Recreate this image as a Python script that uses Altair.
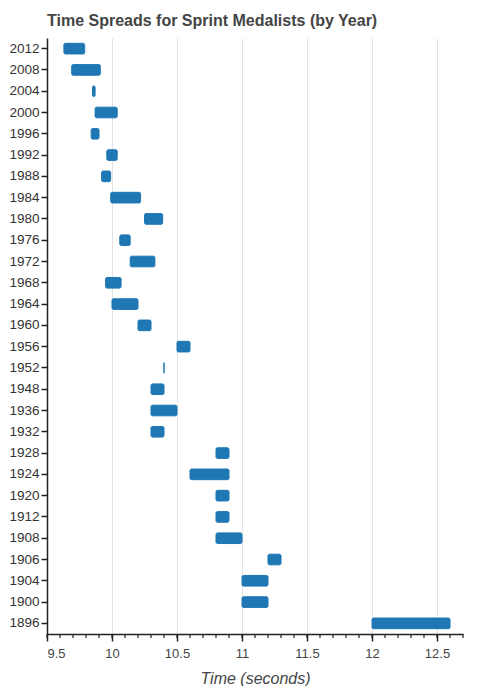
import altair as alt
import pandas as pd

# Olympic 100m medalists: fastest and slowest medal time per Games
years = [2012, 2008, 2004, 2000, 1996, 1992, 1988, 1984, 1980, 1976,
         1972, 1968, 1964, 1960, 1956, 1952, 1948, 1936, 1932, 1928,
         1924, 1920, 1912, 1908, 1906, 1904, 1900, 1896]
fastest = [9.63, 9.69, 9.85, 9.87, 9.84, 9.96, 9.92, 9.99, 10.25, 10.06,
           10.14, 9.95, 10.0, 10.2, 10.5, 10.4, 10.3, 10.3, 10.3, 10.8,
           10.6, 10.8, 10.8, 10.8, 11.2, 11.0, 11.0, 12.0]
slowest = [9.79, 9.91, 9.87, 10.04, 9.90, 10.04, 9.99, 10.22, 10.39, 10.14,
           10.33, 10.07, 10.2, 10.3, 10.6, 10.4, 10.4, 10.5, 10.4, 10.9,
           10.9, 10.9, 10.9, 11.0, 11.3, 11.2, 11.2, 12.6]

major_ticks = [9.5, 10, 10.5, 11, 11.5, 12, 12.5]
minor_ticks = [round(9.5 + 0.1 * i, 1) for i in range(33)]

df = pd.DataFrame({"Year": years, "Fastest": fastest, "Slowest": slowest})
ticks_df = pd.DataFrame({"tick": minor_ticks})

BLUE = "#1f77b4"
INK = "#222222"
H = 596
x_scale = alt.Scale(domain=[9.5, 12.7], nice=False, zero=False)
y_scale = alt.Scale(paddingInner=0.5, paddingOuter=0.25)
x_axis = alt.Axis(values=major_ticks, format="~g",
                  grid=True, gridColor="#e3e3e3",
                  domain=True, domainColor=INK, domainWidth=1.5,
                  ticks=True, tickColor=INK, tickWidth=1.5, tickSize=7,
                  labelFontSize=13, labelColor="#444", labelPadding=6,
                  titleFontSize=16, titleFontStyle="italic",
                  titleFontWeight="normal", titleColor="#444",
                  titlePadding=10)

bars = alt.Chart(df).mark_bar(color=BLUE, stroke=BLUE, strokeWidth=1,
                              cornerRadius=1.5).encode(
    x=alt.X("Fastest:Q", scale=x_scale, title="Time (seconds)", axis=x_axis),
    x2="Slowest:Q",
    y=alt.Y("Year:O", sort="descending", scale=y_scale, title=None,
            axis=alt.Axis(grid=False, labelPadding=2,
                          domain=True, domainColor=INK, domainWidth=1.5,
                          ticks=True, tickColor=INK, tickWidth=1.5, tickSize=6,
                          labelFontSize=13.5, labelColor="#333")),
    tooltip=["Year", "Fastest", "Slowest"],
)

# minor ticks under the x axis, every 0.1 s
minor = alt.Chart(ticks_df).mark_rule(color=INK, strokeWidth=1.2).encode(
    x=alt.X("tick:Q", scale=x_scale, title="Time (seconds)", axis=x_axis),
    y=alt.value(H),
    y2=alt.value(H + 4),
)

chart = alt.layer(bars, minor).properties(
    width=416,
    height=H,
    padding={"left": 0, "top": 5, "right": 5, "bottom": 0},
    title=alt.TitleParams("Time  Spreads for Sprint Medalists (by Year)",
                          anchor="start", frame="group", fontSize=16,
                          fontWeight="bold", color="#444", offset=9),
).configure(font="Liberation Sans").configure_view(strokeWidth=0)

chart.save("out.html", embed_options={"renderer": "svg", "actions": False})
